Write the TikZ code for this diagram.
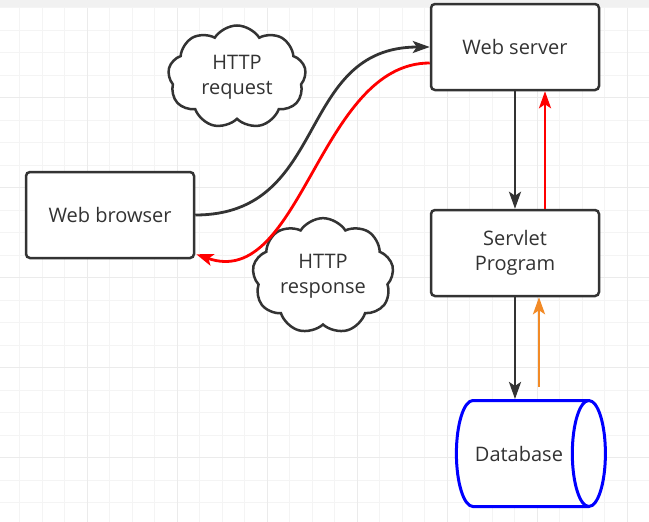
\documentclass[tikz,border=0pt]{standalone}
\usepackage{fontspec}
\setmainfont{Open Sans}
\usetikzlibrary{arrows.meta, positioning, calc, shapes.geometric, shapes.symbols}

\definecolor{ink}{HTML}{333333}
\definecolor{gridminor}{HTML}{F4F4F4}
\definecolor{gridmajor}{HTML}{EBEBEB}
\definecolor{dbblue}{HTML}{0000FF}
\definecolor{pull}{HTML}{F28A26}

\begin{document}
\begin{tikzpicture}[x=1pt, y=-1pt,
	box/.style={draw=ink, line width=2.5pt, rounded corners=4pt, fill=white, minimum width=168pt, minimum height=86pt, align=center, text=ink, font=\fontsize{20}{25}\selectfont},
	bubble/.style={cloud, cloud puffs=9, cloud puff arc=115, aspect=1.35, draw=ink, line width=2.5pt, fill=white, minimum width=138pt, minimum height=103pt, align=center, text=ink, font=\fontsize{20}{25}\selectfont},
	flow/.style={line width=2.8pt, -{Stealth[length=17pt, width=12pt, inset=4pt]}},
	]
	\useasboundingbox (0,0) rectangle (649,522);

	% Background grid
	\fill[white] (0,0) rectangle (649,522);
	\fill[gridmajor!70] (0,0) rectangle (649,7.7);
	\foreach \k in {0,...,28}
		\draw[gridminor, line width=1pt] (19.5+22.5*\k,7.7) -- (19.5+22.5*\k,522);
	\foreach \k in {0,...,22}
		\draw[gridminor, line width=1pt] (0,7.7+22.5*\k) -- (649,7.7+22.5*\k);
	\foreach \k in {0,...,6}
		\draw[gridmajor, line width=1pt] (87+90*\k,7.7) -- (87+90*\k,522);
	\foreach \k in {0,...,4}
		\draw[gridmajor, line width=1pt] (0,97.7+90*\k) -- (649,97.7+90*\k);

	% Boxes
	\node[box] (browser) at (110,215) {Web browser};
	\node[box] (server) at (515,47) {Web server};
	\node[box] (servlet) at (515,253) {Servlet\\Program};

	% Database
	\node[cylinder, shape border rotate=0, aspect=1.5, draw=dbblue, line width=3pt, fill=white, minimum width=106pt, minimum height=149pt, text=ink, font=\fontsize{20}{25}\selectfont] (db) at (519,453.5) {Database};

	% Clouds
	\node[bubble] (req) at (237,77) {HTTP\\request};
	\node[bubble] (resp) at (323,276) {HTTP\\response};

	% Request / response curves
	\draw[flow, ink] (browser.east) .. controls +(135,0) and +(-135,0) .. (server.west);
	\draw[flow, red] ($(server.west)+(0,16)$) .. controls +(-111,0) and +(105,37) .. ($(browser.south east)+(1,-5)$);

	% Server <-> servlet
	\draw[flow, ink] (server.south) -- (servlet.north);
	\draw[flow, red] ($(servlet.north)+(30,0)$) -- ($(server.south)+(30,0)$);

	% Servlet <-> database
	\coordinate (dbin) at (servlet.south |- db.north);
	\coordinate (dbout) at ($(servlet.south |- db.north)+(24,-12)$);
	\draw[flow, ink] (servlet.south) -- (dbin);
	\draw[flow, pull] (dbout) -- ($(servlet.south)+(24,0)$);
\end{tikzpicture}
\end{document}
